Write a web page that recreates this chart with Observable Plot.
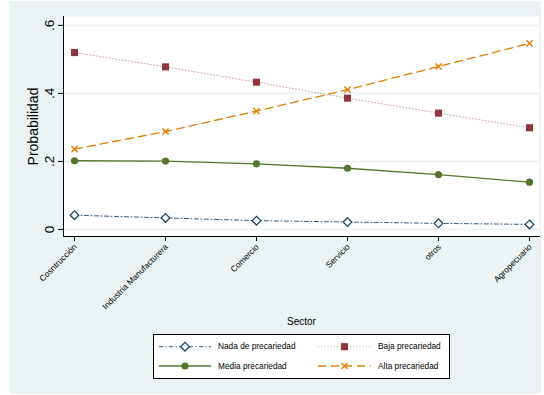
<!DOCTYPE html>
<html>
<head>
<meta charset="utf-8">
<script src="https://cdn.jsdelivr.net/npm/d3@7"></script>
<script src="https://cdn.jsdelivr.net/npm/@observablehq/plot@0.6"></script>
<style>
  body { margin: 0; background: white; }
  #chart { position: relative; width: 544px; height: 395px; }
  text { font-family: "Liberation Sans", Arial, Helvetica, sans-serif; }
</style>
</head>
<body>
<div id="chart"></div>
<script>
// Sectors along the x axis
const sectors = ["Cosntrucción", "Industria Manufacturera", "Comercio", "Servicio", "otros", "Agropecuario"];

// Predicted probability of each precariousness level by sector
const nada  = [0.042, 0.034, 0.026, 0.022, 0.018, 0.015];
const baja  = [0.520, 0.478, 0.433, 0.386, 0.342, 0.299];
const media = [0.202, 0.201, 0.193, 0.180, 0.161, 0.139];
const alta  = [0.236, 0.288, 0.348, 0.411, 0.479, 0.547];

const yTicks = [0, 0.2, 0.4, 0.6];
const yTickLabels = ["0", ".2", ".4", ".6"];

const series = [
  {name: "Nada de precariedad", values: nada,  color: "#1a476f", dash: "4,2.5,1,2.5", width: 1,   opacity: 0.9,  symbol: "diamond2", fill: "white",   r: 3.9},
  {name: "Baja precariedad",    values: baja,  color: "#90353b", dash: "1,2.2",       width: 1,   opacity: 0.45, symbol: "square",   fill: "#90353b", r: 4.0},
  {name: "Media precariedad",   values: media, color: "#55752f", dash: null,          width: 1.3, opacity: 1,    symbol: "circle",   fill: "#55752f", r: 3.6},
  {name: "Alta precariedad",    values: alta,  color: "#e37e00", dash: "8,5",         width: 1.3, opacity: 1,    symbol: "times",    fill: "none",    r: 2.9}
];

const rows = series.flatMap(s => s.values.map((v, i) => ({series: s.name, sector: sectors[i], value: v})));
const font = "'Liberation Sans', Arial, Helvetica, sans-serif";
const markerStroke = s => (s.symbol === "square" || s.symbol === "circle" ? "none" : s.color);

const marks = [
  Plot.frame({fill: "white", stroke: null}),
  Plot.gridY(yTicks, {stroke: "#eaf2f3", strokeOpacity: 1, strokeWidth: 1.6}),
  Plot.frame({anchor: "left", stroke: "black"}),
  Plot.frame({anchor: "bottom", stroke: "black"}),
  Plot.axisY({ticks: yTicks, tickSize: 5, tickFormat: () => "", label: null, stroke: "black"}),
  Plot.axisX({tickSize: 5, tickFormat: () => "", label: null, stroke: "black"}),
  Plot.text(yTicks, {y: d => d, text: (d, i) => yTickLabels[i], frameAnchor: "left", dx: -9.5, rotate: -90,
    lineAnchor: "bottom", textAnchor: "middle", fontSize: 13.5, fill: "black"}),
  Plot.text(["Probabilidad"], {frameAnchor: "left", dx: -25.7, rotate: -90, lineAnchor: "bottom",
    textAnchor: "middle", fontSize: 14, fill: "black"}),
  Plot.text(sectors, {x: d => d, text: d => d, frameAnchor: "bottom", rotate: -45, textAnchor: "end",
    lineAnchor: "middle", dx: 1, dy: 9, fontSize: 8.4, fill: "black"}),
  Plot.text(["Sector"], {frameAnchor: "bottom", dy: 88, lineAnchor: "bottom", fontSize: 10, fill: "black"})
];

for (const s of series) {
  const d = rows.filter(r => r.series === s.name);
  marks.push(Plot.line(d, {x: "sector", y: "value", stroke: s.color, strokeWidth: s.width,
    strokeOpacity: s.opacity, strokeDasharray: s.dash || undefined}));
}
for (const s of series) {
  const d = rows.filter(r => r.series === s.name);
  marks.push(Plot.dot(d, {x: "sector", y: "value", symbol: () => s.symbol, r: s.r,
    fill: s.fill, stroke: markerStroke(s), strokeWidth: s.symbol === "times" ? 1.4 : 1.3}));
}

const chart = Plot.plot({
  width: 544,
  height: 395,
  marginLeft: 63,
  marginRight: 5,
  marginTop: 16,
  marginBottom: 159,
  style: {background: "transparent", fontFamily: font, overflow: "visible"},
  x: {type: "point", domain: sectors, range: [72, 530], padding: 0},
  y: {domain: [-0.0206, 0.626]},
  symbol: {type: "identity"},
  marks
});

const svg = d3.select(chart);
// outer graph region background
svg.insert("rect", ":first-child")
  .attr("x", 10).attr("y", 1).attr("width", 531).attr("height", 393)
  .attr("fill", "#eaf2f3");

// legend box with two columns of keys
const lg = svg.append("g").attr("font-family", font).attr("text-anchor", "start");
lg.append("rect").attr("x", 153.5).attr("y", 334.5).attr("width", 296).attr("height", 44)
  .attr("fill", "white").attr("stroke", "black").attr("stroke-width", 1);
const symbolTypes = {diamond2: d3.symbolDiamond2, square: d3.symbolSquare, circle: d3.symbolCircle, times: d3.symbolTimes};
const cols = [{x0: 159, x1: 211, tx: 218}, {x0: 318, x1: 371, tx: 378}];
const rowY = [346.7, 366];
series.forEach((s, j) => {
  const c = cols[j % 2], y = rowY[Math.floor(j / 2)];
  lg.append("line").attr("x1", c.x0).attr("x2", c.x1).attr("y1", y).attr("y2", y)
    .attr("stroke", s.color).attr("stroke-width", s.width).attr("stroke-opacity", s.opacity)
    .attr("stroke-dasharray", s.dash);
  lg.append("path")
    .attr("d", d3.symbol(symbolTypes[s.symbol], Math.PI * s.r * s.r)())
    .attr("transform", `translate(${(c.x0 + c.x1) / 2},${y})`)
    .attr("fill", s.fill)
    .attr("stroke", markerStroke(s))
    .attr("stroke-width", s.symbol === "times" ? 1.4 : 1.3);
  lg.append("text").attr("x", c.tx).attr("y", y).attr("dy", "0.32em")
    .attr("font-size", 8.3).attr("fill", "black").text(s.name);
});

document.getElementById("chart").appendChild(chart);
</script>
</body>
</html>
